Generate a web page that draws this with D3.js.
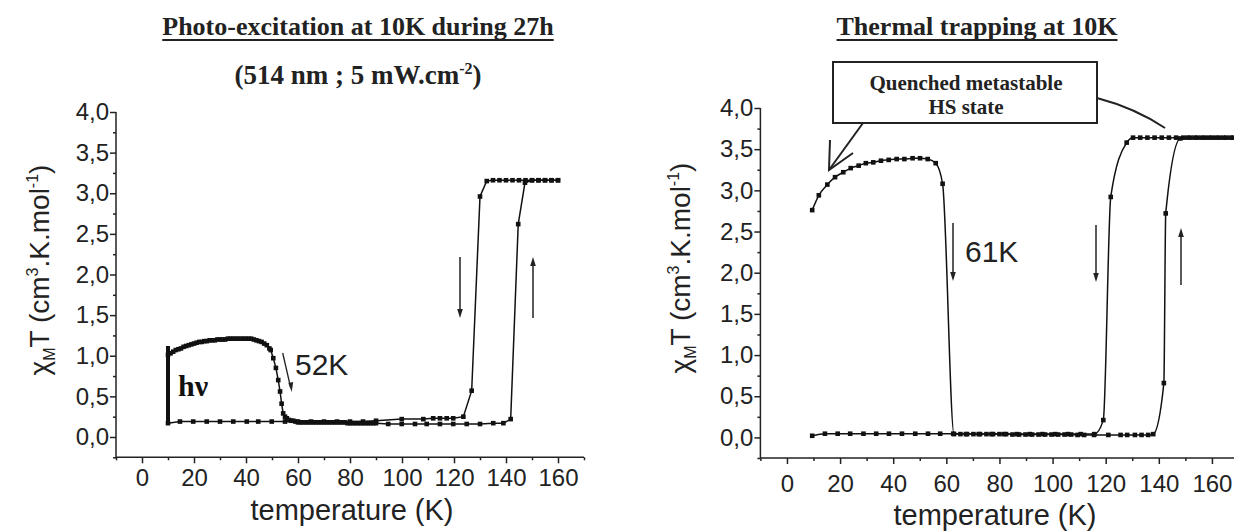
<!DOCTYPE html>
<html>
<head>
<meta charset="utf-8">
<script src="https://cdn.jsdelivr.net/npm/d3@7"></script>
<style>
html,body{margin:0;padding:0;background:#fff}
svg{display:block}
.tick text{font-family:"Liberation Sans",Arial,sans-serif;font-size:24px;fill:#222}
.domain,.tick line{stroke:#222;stroke-width:1.5}
</style>
</head>
<body>
<svg id="chart" width="1234" height="531"></svg>
<script>
// ===== DATA =====
const xMajor = [0,20,40,60,80,100,120,140,160]
const xMinor = [-10,10,30,50,70,90,110,130,150,170]
const yMajor = [0,0.5,1,1.5,2,2.5,3,3.5,4]
const yMinor = [-0.25,0.25,0.75,1.25,1.75,2.25,2.75,3.25,3.75]

// left : photo-excitation
const hvT   = [10,10,10,10,10,10]
const hvChi = [0.17,0.40,0.60,0.80,1.00,1.12]

const leftHeatT = [10,11,12,13,14,15,16,17,18,19,20,21,22,23,24,25,26,27,28,29,30,31,32,33,34,35,36,37,38,39,40,41,42,43,44,45,46,47,48,49,49.5,50.5,51.5,52.4,53.1,53.7,54.3,55,55.7,56.5,57.3,58.2,59,60,61,62,63,64,65,66,67,68,69,70,71,72,73,74,75,76,77,78,79,80,81,82,83,84,85,86,87,88,89,90,94.7,99.9,105,109.5,114.6,119.7,124.9,130,135.1,139,141.8,144.7,147.3,150,152.5,155,157.5,160]
const leftHeatChi = [1.01,1.03,1.05,1.07,1.08,1.09,1.11,1.12,1.13,1.14,1.15,1.16,1.17,1.17,1.18,1.18,1.19,1.19,1.19,1.20,1.20,1.20,1.20,1.21,1.21,1.21,1.21,1.21,1.21,1.21,1.21,1.21,1.21,1.20,1.19,1.18,1.17,1.15,1.13,1.09,1.07,0.97,0.85,0.70,0.56,0.41,0.29,0.25,0.23,0.21,0.20,0.20,0.19,0.18,0.18,0.18,0.18,0.18,0.18,0.18,0.18,0.18,0.18,0.18,0.18,0.18,0.18,0.18,0.18,0.18,0.18,0.18,0.17,0.17,0.17,0.17,0.17,0.17,0.17,0.17,0.17,0.17,0.17,0.17,0.16,0.16,0.16,0.16,0.16,0.16,0.16,0.16,0.17,0.17,0.22,2.62,3.13,3.16,3.16,3.16,3.16,3.16]

const leftCoolT   = [10,14.6,19.7,24.9,30,35.1,40.3,44.7,49.9,55,60,65,70,75,80,85,90,99.9,108.2,112,114.6,117.2,119.7,123.6,126.8,130,132.6,135,137.5,140,142.5,145,147.5,150,152.5,155,157.5,160]
const leftCoolChi = [0.17,0.19,0.19,0.19,0.19,0.19,0.19,0.19,0.19,0.19,0.19,0.19,0.19,0.19,0.19,0.19,0.20,0.22,0.22,0.23,0.23,0.23,0.23,0.25,0.57,2.96,3.15,3.16,3.16,3.16,3.16,3.16,3.16,3.16,3.16,3.16,3.16,3.16]

// right : thermal trapping
const rightHeatT = [9.5,12,15.2,18.1,21.2,24,27,29.7,32.5,35.4,38.3,41.3,44.2,47.3,50.1,53,56,58.6,62.9,65.3,67.8,70.2,72.7,75.1,77.6,80,82.5,84.9,87.4,89.8,92.3,94.7,97.2,99.6,102.1,104.5,107,109.4,111.9,115.6,121,125.6,128.1,131,133.5,136,137.9,141.9,142.6,148.1,150.8,153.5,156.2,158.9,161.6,164.3,167]
const rightHeatChi = [2.76,2.94,3.07,3.16,3.22,3.27,3.30,3.33,3.34,3.36,3.37,3.38,3.38,3.39,3.39,3.38,3.33,3.08,0.04,0.04,0.04,0.04,0.04,0.04,0.04,0.04,0.04,0.035,0.035,0.035,0.035,0.035,0.035,0.035,0.035,0.035,0.035,0.03,0.03,0.03,0.03,0.03,0.03,0.03,0.03,0.03,0.04,0.66,2.72,3.63,3.64,3.64,3.64,3.64,3.64,3.64,3.64]

const rightCoolT = [9.5,14.3,19.1,23.8,28.8,33.6,38.4,43.3,48.3,53.1,57.7,62.6,67.4,72.2,77,81.8,86.6,91.4,96.2,101,105.8,110.6,115.7,119.1,121.9,127.9,130.3,133,135.7,138.4,141.1,143.8,146.5,149.2,151.9,154.6,157.3,160,162.7,165.4,168.1]
const rightCoolChi = [0.02,0.045,0.045,0.045,0.045,0.045,0.045,0.045,0.045,0.045,0.045,0.045,0.04,0.04,0.04,0.04,0.04,0.04,0.04,0.04,0.04,0.04,0.04,0.21,2.92,3.58,3.64,3.64,3.64,3.64,3.64,3.64,3.64,3.64,3.64,3.64,3.64,3.64,3.64,3.64,3.64]

const svg = d3.select("#chart")
svg.append("rect").attr("width",1234).attr("height",531).attr("fill","#fff")

const fmt = d=>d3.format(".1f")(d).replace(".",",")

function zip(T,C){ return T.map((t,i)=>({t:t,c:C[i]})) }

// ===== PANEL =====
function panel(opt){
  const x = d3.scaleLinear().domain([-10,170]).range(opt.xr)
  const y = d3.scaleLinear().domain([-0.25,4]).range(opt.yr)
  const g = svg.append("g")

  // axes
  g.append("g").attr("transform",`translate(0,${opt.yr[0]})`)
   .call(d3.axisBottom(x).tickValues(xMinor).tickSize(3).tickFormat(""))
  g.append("g").attr("transform",`translate(0,${opt.yr[0]})`)
   .call(d3.axisBottom(x).tickValues(xMajor).tickSize(6).tickPadding(opt.xpad).tickFormat(d3.format("d")))
  g.append("g").attr("transform",`translate(${opt.xr[0]},0)`)
   .call(d3.axisLeft(y).tickValues(yMinor).tickSize(3).tickFormat(""))
  g.append("g").attr("transform",`translate(${opt.xr[0]},0)`)
   .call(d3.axisLeft(y).tickValues(yMajor).tickSize(6).tickPadding(1).tickFormat(fmt))
  g.selectAll(".domain").attr("d",null)
  g.append("line").attr("x1",opt.xr[0]).attr("x2",opt.xr[1]).attr("y1",opt.yr[0]).attr("y2",opt.yr[0]).attr("stroke","#222").attr("stroke-width",1.5)
  g.append("line").attr("x1",opt.xr[0]).attr("x2",opt.xr[0]).attr("y1",opt.yr[0]).attr("y2",opt.yr[1]).attr("stroke","#222").attr("stroke-width",1.5)

  // axis labels
  g.append("text").attr("x",opt.xlab[0]).attr("y",opt.xlab[1]).attr("text-anchor","middle")
   .style("font-family","Liberation Sans, Arial, sans-serif").style("font-size","29px").attr("fill","#222")
   .text("temperature (K)")

  const yl = g.append("text")
   .attr("transform",`translate(${opt.ylab[0]},${opt.ylab[1]}) rotate(-90)`)
   .attr("text-anchor","middle")
   .style("font-family","Liberation Sans, Arial, sans-serif").style("font-size","28px").attr("fill","#222")
  yl.append("tspan").text("χ")
  yl.append("tspan").attr("dy",6).style("font-size","16px").text("M")
  yl.append("tspan").attr("dy",-6).text("T (cm")
  yl.append("tspan").attr("dy",-11).style("font-size","16px").text("3")
  yl.append("tspan").attr("dy",11).text(".K.mol")
  yl.append("tspan").attr("dy",-11).style("font-size","16px").text("-1")
  yl.append("tspan").attr("dy",11).text(")")

  // series
  const line = d3.line().x(d=>x(d.t)).y(d=>y(d.c)).curve(opt.curve)
  opt.series.forEach(s=>{
    const data = zip(s[0],s[1])
    g.append("path").datum(data).attr("fill","none").attr("stroke","#111").attr("stroke-width",1.5).attr("d",line)
    g.selectAll(null).data(data).enter().append("rect")
     .attr("x",d=>x(d.t)-2.3).attr("y",d=>y(d.c)-2.3).attr("width",4.6).attr("height",4.6).attr("fill","#111")
  })
  return {x:x,y:y,g:g}
}

function arrow(g,x,y1,y2){
  const dir = y2>y1 ? 1 : -1
  g.append("line").attr("x1",x).attr("x2",x).attr("y1",y1).attr("y2",y2-dir*6).attr("stroke","#222").attr("stroke-width",1.5)
  g.append("path").attr("d",`M${x},${y2} L${x-2.8},${y2-dir*9} L${x+2.8},${y2-dir*9} Z`).attr("fill","#222")
}

function title(x,y,txt,size){
  const t = svg.append("text").attr("x",x).attr("y",y).attr("text-anchor","middle")
   .style("font-family","Liberation Serif, Times New Roman, serif").style("font-weight","bold").style("font-size",size+"px").attr("fill","#222")
   .text(txt)
  const w = t.node().getComputedTextLength()
  svg.append("line").attr("x1",x-w/2).attr("x2",x+w/2).attr("y1",y+5).attr("y2",y+5).attr("stroke","#222").attr("stroke-width",1.8)
}

// ===== LEFT =====
const L = panel({
  xr:[116,584], yr:[457.3,112], xpad:6, xlab:[352,520], ylab:[49,270],
  curve:d3.curveLinear,
  series:[[leftCoolT,leftCoolChi],[leftHeatT,leftHeatChi]]
})
L.g.append("path").datum(zip(hvT,hvChi)).attr("fill","none").attr("stroke","#111").attr("stroke-width",4)
 .attr("d",d3.line().x(d=>L.x(d.t)).y(d=>L.y(d.c)))

title(358,35,"Photo-excitation at 10K during 27h",26)
const sub = svg.append("text").attr("x",358).attr("y",84).attr("text-anchor","middle")
 .style("font-family","Liberation Serif, Times New Roman, serif").style("font-weight","bold").style("font-size","27px").attr("fill","#222")
sub.append("tspan").text("(514 nm ; 5 mW.cm")
sub.append("tspan").attr("dy",-10).style("font-size","16px").text("-2")
sub.append("tspan").attr("dy",10).text(")")

L.g.append("text").attr("x",178).attr("y",396)
 .style("font-family","Liberation Serif, Times New Roman, serif").style("font-weight","bold").style("font-size","30px").attr("fill","#111")
 .text("hν")
L.g.append("text").attr("x",295).attr("y",375)
 .style("font-family","Liberation Sans, Arial, sans-serif").style("font-size","30px").attr("fill","#222").text("52K")
L.g.append("line").attr("x1",282.7).attr("y1",353).attr("x2",290.5).attr("y2",387).attr("stroke","#222").attr("stroke-width",1.3)
L.g.append("path").attr("d","M291.7,392 L288.3,383 L293.2,382 Z").attr("fill","#222")
arrow(L.g,460,257,318)
arrow(L.g,533,318,257)

// ===== RIGHT =====
const R = panel({
  xr:[760.4,1238.5], yr:[458,108], xpad:11, xlab:[995,525], ylab:[690,268],
  curve:d3.curveMonotoneX,
  series:[[rightCoolT,rightCoolChi],[rightHeatT,rightHeatChi]]
})
title(977,35,"Thermal trapping at 10K",26)

R.g.append("rect").attr("x",833).attr("y",62).attr("width",264).attr("height",61)
 .attr("fill","#fff").attr("stroke","#222").attr("stroke-width",2)
R.g.append("text").attr("x",966).attr("y",90).attr("text-anchor","middle")
 .style("font-family","Liberation Serif, Times New Roman, serif").style("font-weight","bold").style("font-size","21px").attr("fill","#222")
 .text("Quenched metastable")
R.g.append("text").attr("x",966).attr("y",114).attr("text-anchor","middle")
 .style("font-family","Liberation Serif, Times New Roman, serif").style("font-weight","bold").style("font-size","21px").attr("fill","#222")
 .text("HS state")
// callout pointers
R.g.append("path").attr("d","M863,123 L829,170").attr("fill","none").attr("stroke","#222").attr("stroke-width",2)
R.g.append("path").attr("d","M830,140 L829,170 L853,153").attr("fill","none").attr("stroke","#222").attr("stroke-width",2)
R.g.append("path").attr("d","M1097,98 Q1135,108 1165,128").attr("fill","none").attr("stroke","#222").attr("stroke-width",2)

R.g.append("text").attr("x",965).attr("y",262)
 .style("font-family","Liberation Sans, Arial, sans-serif").style("font-size","30px").attr("fill","#222").text("61K")
arrow(R.g,953,223,281)
arrow(R.g,1096,225,282)
arrow(R.g,1181,285,228)
</script>
</body>
</html>
